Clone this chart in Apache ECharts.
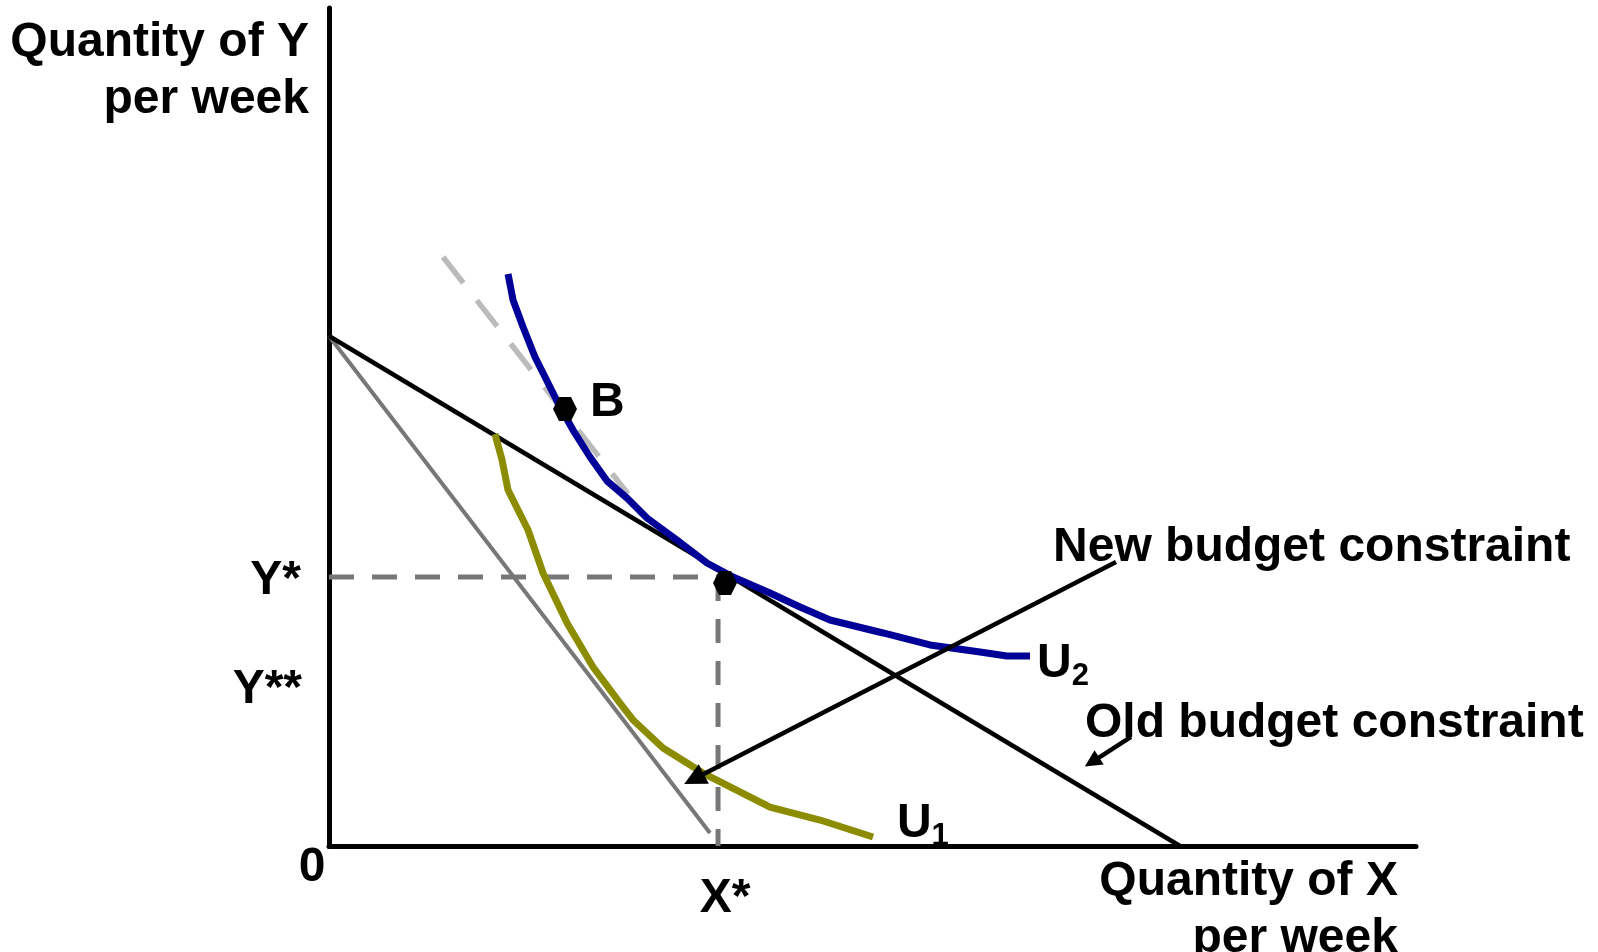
<!DOCTYPE html>
<html lang="en">
<head>
    <meta charset="utf-8">
    <title>Budget constraint</title>
    <script src="https://cdn.jsdelivr.net/npm/echarts@6/dist/echarts.min.js"></script>
    <style>
        html, body {
            margin: 0;
            padding: 0;
            background: #fff;
        }

        #chart {
            width: 1598px;
            height: 952px;
        }
    </style>
</head>
<body>
<div id="chart"></div>
<script>
    // 数据（坐标单位：x 0-100，y 0-100）
    const oldBudget = [[0, 60.86], [78.29, 0]];
    const newBudget = [[0, 60.86], [35.05, 1.55]];
    const tangentLine = [[10.49, 70.29], [27.51, 42.0]];
    const yStarLine = [[0, 32.1], [35.79, 32.1]];
    const xStarLine = [[35.79, 32.1], [35.79, 0]];

    const u2Curve = [
        [16.47, 68.26], [16.93, 65.16], [17.85, 61.93], [18.95, 58.35], [20.15, 55.25],
        [21.25, 52.39], [22.45, 49.64], [24.01, 46.42], [25.58, 43.56], [27.41, 41.53],
        [29.25, 39.14], [32.01, 36.52], [34.77, 33.77], [37.17, 32.10], [40.57, 30.19],
        [43.33, 28.52], [46.09, 26.97], [50.97, 25.42], [55.29, 23.99], [59.89, 23.15],
        [62.37, 22.67], [64.49, 22.67]
    ];
    const u1Curve = [
        [15.27, 49.16], [15.92, 46.06], [16.47, 42.48], [18.31, 37.71], [19.69, 32.58],
        [21.90, 26.61], [24.29, 21.36], [26.77, 17.06], [27.97, 15.04], [30.73, 11.69],
        [34.41, 8.71], [40.57, 4.65], [45.17, 3.10], [50.05, 1.07]
    ];

    const dots = [[21.71, 52.15], [36.43, 31.38]];
    const newArrow = [[72.40, 33.89], [33.58, 8.0]];
    const oldArrow = [[73.78, 13.01], [70.19, 10.02]];

    // 文字: [x, y, 文本, 对齐]
    const labels = [
        [-1.84, 92.5, 'Quantity of Y\nper week', 'right'],
        [98.34, -7.7, 'Quantity of X\nper week', 'right'],
        [-1.56, -2.6, '0', 'center'],
        [-2.58, 31.7, 'Y*', 'right'],
        [-2.48, 18.6, 'Y**', 'right'],
        [36.43, -6.3, 'X*', 'center'],
        [24.01, 52.85, 'B', 'left'],
        [65.13, 21.75, '{a|U}{b|2}', 'left'],
        [52.25, 2.65, '{a|U}{b|1}', 'left'],
        [66.61, 35.6, 'New budget constraint', 'left'],
        [69.55, 14.6, 'Old budget constraint', 'left']
    ];

    const font = 'Liberation Sans, Arial, sans-serif';
    const hexagon = 'path://M5,0 L15,0 L20,9 L15,18 L5,18 L0,9 Z';

    let chart = echarts.init(document.getElementById('chart'));

    function lineSeries(data, color, width, dash, z) {
        return {
            type: 'line',
            data: data,
            symbol: 'none',
            smooth: false,
            silent: true,
            z: z,
            lineStyle: {
                color: color,
                width: width,
                type: dash || 'solid',
                cap: 'butt'
            }
        };
    }

    function arrowSeries(data, size) {
        return {
            type: 'lines',
            coordinateSystem: 'cartesian2d',
            silent: true,
            z: 8,
            symbol: ['none', 'triangle'],
            symbolSize: size,
            lineStyle: {color: '#000', width: 4.5, opacity: 1},
            data: [{coords: data}]
        };
    }

    let option = {
        animation: false,
        backgroundColor: '#fff',
        grid: {left: 329, top: 8, width: 1087, height: 838},
        xAxis: {
            type: 'value', min: 0, max: 100,
            axisLine: {show: true, onZero: false, lineStyle: {color: '#000', width: 5}},
            axisTick: {show: false}, axisLabel: {show: false}, splitLine: {show: false}
        },
        yAxis: {
            type: 'value', min: 0, max: 100,
            axisLine: {show: true, onZero: false, lineStyle: {color: '#000', width: 5}},
            axisTick: {show: false}, axisLabel: {show: false}, splitLine: {show: false}
        },
        series: [
            lineSeries(yStarLine, '#777777', 5, [25, 18], 1),
            lineSeries(xStarLine, '#777777', 5, [24, 18], 1),
            lineSeries(newBudget, '#777777', 4, null, 2),
            lineSeries(oldBudget, '#000000', 4.5, null, 3),
            lineSeries(tangentLine, '#bbbbbb', 5.5, [33, 22], 4),
            lineSeries(u1Curve, '#8c8c00', 7, null, 5),
            lineSeries(u2Curve, '#000099', 7, null, 6),
            arrowSeries(newArrow, [18, 22]),
            arrowSeries(oldArrow, [14, 17]),
            {
                type: 'scatter',
                data: dots,
                symbol: hexagon,
                symbolSize: 24,
                itemStyle: {color: '#000', opacity: 1},
                silent: true,
                z: 9
            },
            {
                type: 'scatter',
                clip: false,
                silent: true,
                symbolSize: 0,
                itemStyle: {opacity: 1},
                z: 10,
                data: labels.map(function (l) {
                    return {
                        value: [l[0], l[1]],
                        label: {
                            show: true,
                            position: 'inside',
                            formatter: l[2],
                            align: l[3],
                            verticalAlign: 'middle',
                            color: '#000',
                            opacity: 1,
                            fontFamily: font,
                            fontWeight: 'bold',
                            fontSize: 48,
                            lineHeight: 57,
                            rich: {
                                a: {fontFamily: font, fontWeight: 'bold', fontSize: 48, lineHeight: 57, color: '#000'},
                                b: {fontFamily: font, fontWeight: 'bold', fontSize: 31, lineHeight: 30,
                                    verticalAlign: 'bottom', color: '#000'}
                            }
                        }
                    };
                })
            }
        ]
    };

    chart.setOption(option);
</script>
</body>
</html>
